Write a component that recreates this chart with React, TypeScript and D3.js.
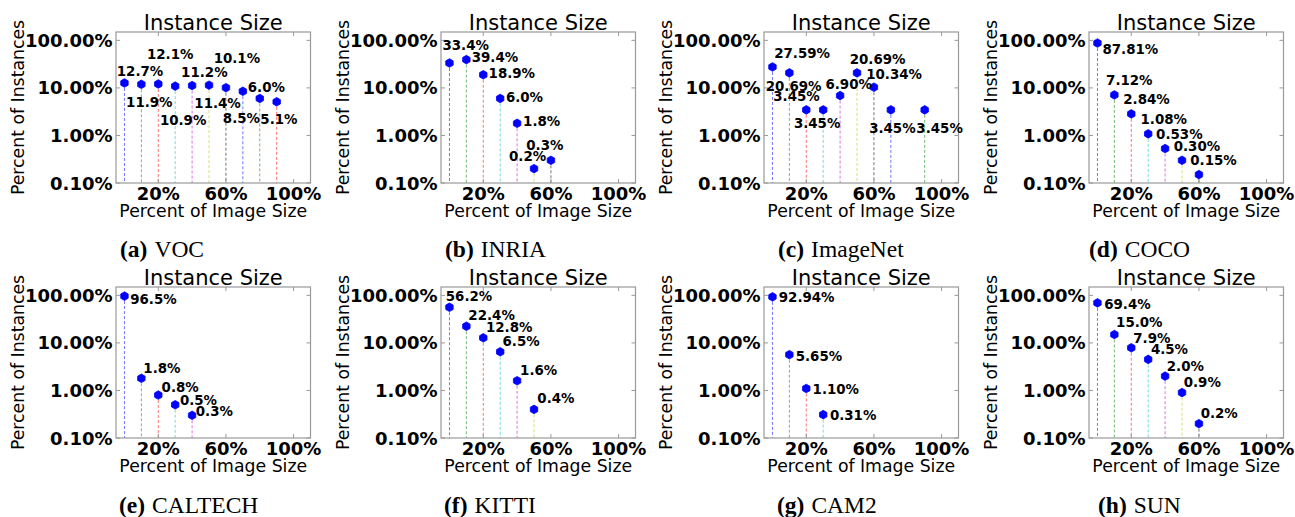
import React from "react";
import * as d3 from "d3";

// ---------- data ----------
const vocX = [0, 10, 20, 30, 40, 50, 60, 70, 80, 90];
const vocY = [12.7, 11.9, 12.1, 10.9, 11.2, 11.4, 10.1, 8.5, 6.0, 5.1];
const inriaX = [0, 10, 20, 30, 40, 50, 60];
const inriaY = [33.4, 39.4, 18.9, 6.0, 1.8, 0.2, 0.3];
const imagenetX = [0, 10, 20, 30, 40, 50, 60, 70, 90];
const imagenetY = [27.59, 20.69, 3.45, 3.45, 6.9, 20.69, 10.34, 3.45, 3.45];
const cocoX = [0, 10, 20, 30, 40, 50, 60];
const cocoY = [87.81, 7.12, 2.84, 1.08, 0.53, 0.3, 0.15];
const caltechX = [0, 10, 20, 30, 40];
const caltechY = [96.5, 1.8, 0.8, 0.5, 0.3];
const kittiX = [0, 10, 20, 30, 40, 50];
const kittiY = [56.2, 22.4, 12.8, 6.5, 1.6, 0.4];
const cam2X = [0, 10, 20, 30];
const cam2Y = [92.94, 5.65, 1.1, 0.31];
const sunX = [0, 10, 20, 30, 40, 50, 60];
const sunY = [69.4, 15.0, 7.9, 4.5, 2.0, 0.9, 0.2];

const captionLetters = ["(a)", "(b)", "(c)", "(d)", "(e)", "(f)", "(g)", "(h)"];
const captionNames = ["VOC", "INRIA", "ImageNet", "COCO", "CALTECH", "KITTI", "CAM2", "SUN"];
const labelDecimals = [1, 1, 2, 2, 1, 1, 2, 1];

const yTickValues = [0.1, 1, 10, 100];
const yTickLabels = ["0.10%", "1.00%", "10.00%", "100.00%"];
const xTickValues = [20, 60, 100];
const xTickLabels = ["20%", "60%", "100%"];

const titleText = "Instance Size";
const xLabelText = "Percent of Image Size";
const yLabelText = "Percent of Instances";

// ---------- layout (label offsets in px relative to marker: left x, centre y) ----------
const vocOffsets = [[-7.7, -11.7], [-15.3, 18.3], [-11.3, -29.7], [-15.3, 33.7], [-11, -13.3], [-14.7, 18], [-12.3, -30], [-20, 26.7], [-12, -11.3], [-16.3, 17.7]];
const inriaOffsets = [[-7, -18.3], [5.3, -2], [5.3, -2], [5.7, -1.7], [6, -2.3], [-25, -12], [-24.7, -15.5]];
const imagenetOffsets = [[1.7, -13.3], [-23.7, 13.3], [-33, -13.7], [-29.3, 13.7], [-14.7, -11], [-7.3, -13.3], [-7.7, -12.7], [-21.7, 18], [-8.3, 18]];
const cocoOffsets = [[5, 6], [-8.3, -14.3], [-8, -15], [-7.7, -15], [-9, -14.7], [-8.3, -14], [-8.7, -14]];
const caltechOffsets = [[5.7, 3.3], [2, -10], [3.3, -8], [4.7, -4.3], [3.7, -4]];
const kittiOffsets = [[-3.7, -10.7], [2, -11], [2.7, -11], [2.3, -10.7], [3, -10.7], [3.3, -11]];
const cam2Offsets = [[6.3, 0.7], [6.3, 1], [6.3, 0.3], [6.7, 0.7]];
const sunOffsets = [[6.7, 1], [1.7, -12.3], [2, -10], [2.7, -10.3], [1.7, -10], [1.7, -10.7], [1.7, -10.3]];

const panelXs = [vocX, inriaX, imagenetX, cocoX, caltechX, kittiX, cam2X, sunX];
const panelYs = [vocY, inriaY, imagenetY, cocoY, caltechY, kittiY, cam2Y, sunY];
const panelOffsets = [vocOffsets, inriaOffsets, imagenetOffsets, cocoOffsets, caltechOffsets, kittiOffsets, cam2Offsets, sunOffsets];

const boxLefts = [116, 441, 764, 1089];
const rowTops = [32, 287];
const boxW = 194.5;
const boxH = 151;
const captionLeft = [120, 445, 778, 1089, 119, 444, 777, 1098];
const captionBaselines = [256.5, 512.5];

const cycle = ["#0000ff", "#008000", "#ff0000", "#00bfbf", "#bf00bf", "#bfbf00", "#000000"];
const SANS = "'DejaVu Sans', sans-serif";
const SERIF = "'Liberation Serif', 'Times New Roman', serif";

function hexagon(cx: number, cy: number, r: number) {
  const p = d3.path();
  for (let k = 0; k < 6; k++) {
    const a = Math.PI / 2 + (k * Math.PI) / 3;
    const x = cx + r * Math.cos(a);
    const y = cy - r * Math.sin(a);
    if (k === 0) p.moveTo(x, y);
    else p.lineTo(x, y);
  }
  p.closePath();
  return p.toString();
}

function Panel({ idx }: { idx: number }) {
  const col = idx % 4;
  const row = Math.floor(idx / 4);
  const left = boxLefts[col];
  const top = rowTops[row];
  const xs = d3.scaleLinear().domain([-5, 110]).range([left, left + boxW]);
  const ys = d3.scaleLog().domain([0.1, 150]).range([top + boxH, top]);
  const xv = panelXs[idx];
  const yv = panelYs[idx];
  const offs = panelOffsets[idx];
  const bottom = top + boxH;
  const right = left + boxW;
  const tickLen = 4;
  return (
    <g>
      {xv.map((x, i) => (
        <line
          key={"s" + i}
          x1={xs(x)}
          x2={xs(x)}
          y1={ys(yv[i])}
          y2={bottom}
          stroke={cycle[i % cycle.length]}
          strokeOpacity={0.55}
          strokeWidth={1}
          strokeDasharray="3,2"
        />
      ))}
      <rect x={left} y={top} width={boxW} height={boxH} fill="none" stroke="#999" strokeWidth={1.2} />
      {yTickValues.map((v, i) => (
        <g key={"yt" + i}>
          <line x1={left} x2={left + tickLen} y1={ys(v)} y2={ys(v)} stroke="#999" />
          <line x1={right} x2={right - tickLen} y1={ys(v)} y2={ys(v)} stroke="#999" />
          <text
            x={left - 3.5}
            y={ys(v) + 6.5}
            textAnchor="end"
            fontFamily={SANS}
            fontWeight="bold"
            fontSize={18}
            fill="#000"
          >
            {yTickLabels[i]}
          </text>
        </g>
      ))}
      {xTickValues.map((v, i) => (
        <g key={"xt" + i}>
          <line x1={xs(v)} x2={xs(v)} y1={bottom} y2={bottom - tickLen} stroke="#999" />
          <line x1={xs(v)} x2={xs(v)} y1={top} y2={top + tickLen} stroke="#999" />
          <text
            x={xs(v)}
            y={bottom + 17}
            textAnchor="middle"
            fontFamily={SANS}
            fontWeight="bold"
            fontSize={18}
            fill="#000"
          >
            {xTickLabels[i]}
          </text>
        </g>
      ))}
      {xv.map((x, i) => (
        <path key={"m" + i} d={hexagon(xs(x), ys(yv[i]), 4.3)} fill="#0000ff" stroke="#0000ff" strokeWidth={0.8} />
      ))}
      {xv.map((x, i) => (
        <text
          key={"l" + i}
          x={xs(x) + offs[i][0]}
          y={ys(yv[i]) + offs[i][1] + 4.8}
          fontFamily={SANS}
          fontWeight="bold"
          fontSize={13.4}
          fill="#000"
        >
          {yv[i].toFixed(labelDecimals[idx]) + "%"}
        </text>
      ))}
      <text x={(left + right) / 2} y={top - 2.5} textAnchor="middle" fontFamily={SANS} fontSize={21} fill="#000">
        {titleText}
      </text>
      <text x={(left + right) / 2} y={bottom + 34} textAnchor="middle" fontFamily={SANS} fontSize={17.3} fill="#000">
        {xLabelText}
      </text>
      <text
        transform={`translate(${left - 92.5},${(top + bottom) / 2}) rotate(-90)`}
        textAnchor="middle"
        fontFamily={SANS}
        fontSize={17.3}
        fill="#000"
      >
        {yLabelText}
      </text>
      <text x={captionLeft[idx]} y={captionBaselines[row]} fontFamily={SERIF} fontSize={23.5} fill="#000">
        <tspan fontWeight="bold">{captionLetters[idx]}</tspan>
        <tspan dx={7}>{captionNames[idx]}</tspan>
      </text>
    </g>
  );
}

export default function App() {
  return (
    <svg
      width={1295}
      height={517}
      viewBox="0 0 1295 517"
      style={{ position: "absolute", left: 0, top: 0, background: "#fff" }}
    >
      <rect x={0} y={0} width={1295} height={517} fill="#fff" />
      {captionNames.map((_, i) => (
        <Panel key={i} idx={i} />
      ))}
    </svg>
  );
}
